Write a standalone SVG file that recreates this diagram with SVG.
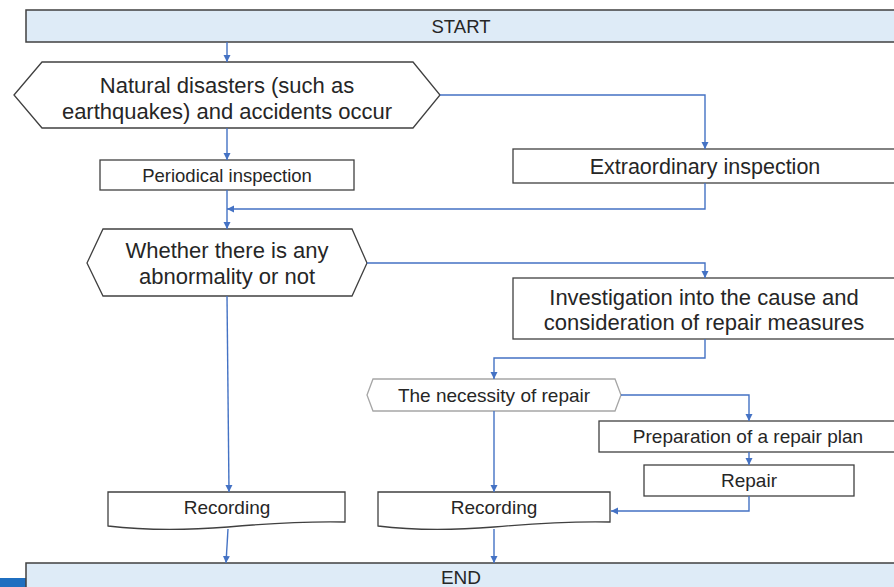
<svg xmlns="http://www.w3.org/2000/svg" width="894" height="587" viewBox="0 0 894 587">
<defs>
<marker id="arr" markerWidth="8" markerHeight="8" refX="7" refY="4" orient="auto" markerUnits="userSpaceOnUse">
<path d="M0,0.5 L7,4 L0,7.5 Z" fill="#4472c4"/>
</marker>
</defs>
<style>
.box{fill:#ffffff;stroke:#404040;stroke-width:1.3}
.term{fill:#deebf7;stroke:#404040;stroke-width:1.5}
.hexg{fill:#ffffff;stroke:#a6a6a6;stroke-width:1.3}
.t{font-family:"Liberation Sans",Arial,sans-serif;fill:#262626;text-anchor:middle}
.c{fill:none;stroke:#4472c4;stroke-width:1.4;marker-end:url(#arr)}
</style>
<rect width="894" height="587" fill="#ffffff"/>
<rect x="0" y="578" width="27" height="9" fill="#1f6fc0"/>

<g id="start">
<rect class="term" x="26" y="10" width="880" height="32"/>
<text class="t" x="461" y="33" font-size="18.5">START</text>
</g>

<g id="disaster">
<polygon class="box" points="14,95 42,62 413,62 440,95 413,128 42,128"/>
<text class="t" x="227" y="93" font-size="22">Natural disasters (such as</text>
<text class="t" x="227" y="119" font-size="22">earthquakes) and accidents occur</text>
</g>

<g id="periodical">
<rect class="box" x="100" y="160" width="254" height="30"/>
<text class="t" x="227" y="182" font-size="18.5">Periodical inspection</text>
</g>

<g id="extraordinary">
<rect class="box" x="513" y="149" width="390" height="34"/>
<text class="t" x="705" y="174" font-size="21.5">Extraordinary inspection</text>
</g>

<g id="abnormality">
<polygon class="box" points="87,263 103,229 352,229 367,263 352,296 103,296"/>
<text class="t" x="227" y="258" font-size="22">Whether there is any</text>
<text class="t" x="227" y="284" font-size="22">abnormality or not</text>
</g>

<g id="investigation">
<rect class="box" x="513" y="278" width="390" height="61"/>
<text class="t" x="704" y="305" font-size="22">Investigation into the cause and</text>
<text class="t" x="704" y="330" font-size="22">consideration of repair measures</text>
</g>

<g id="necessity">
<polygon class="hexg" points="367,395 373,379 615,379 621,395 615,411 373,411"/>
<text class="t" x="494" y="402" font-size="19">The necessity of repair</text>
</g>

<g id="plan">
<rect class="box" x="599" y="421" width="310" height="31"/>
<text class="t" x="748" y="443" font-size="19">Preparation of a repair plan</text>
</g>

<g id="repair">
<rect class="box" x="644" y="465" width="210" height="31"/>
<text class="t" x="749" y="487" font-size="19">Repair</text>
</g>

<g id="recording1">
<path class="box" d="M108,492 H345 V522 C300,521 262,524 228,527 C190,530 150,531 108,526 Z"/>
<text class="t" x="227" y="514" font-size="19">Recording</text>
</g>

<g id="recording2">
<path class="box" d="M378,492 H610 V522 C566,521 528,524 494,527 C457,530 418,531 378,526 Z"/>
<text class="t" x="494" y="514" font-size="19">Recording</text>
</g>

<g id="end">
<rect class="term" x="26" y="563" width="880" height="32"/>
<text class="t" x="461" y="584" font-size="19">END</text>
</g>

<g id="connectors">
<path class="c" d="M227,42 V62"/>
<path class="c" d="M227,128 V160"/>
<path class="c" d="M440,95 H705 V149"/>
<path class="c" d="M227,190 V229"/>
<path class="c" d="M705,183 V209 H227"/>
<path class="c" d="M367,263 H705 V278"/>
<path class="c" d="M705,339 V358 H494 V379"/>
<path class="c" d="M621,395 H749 V421"/>
<path class="c" d="M749,452 V465"/>
<path class="c" d="M749,496 V511 H611"/>
<path class="c" d="M494,411 V492"/>
<path class="c" d="M227,296 L229,492"/>
<path class="c" d="M228,529 L226,563"/>
<path class="c" d="M494,529 V563"/>
</g>
</svg>
